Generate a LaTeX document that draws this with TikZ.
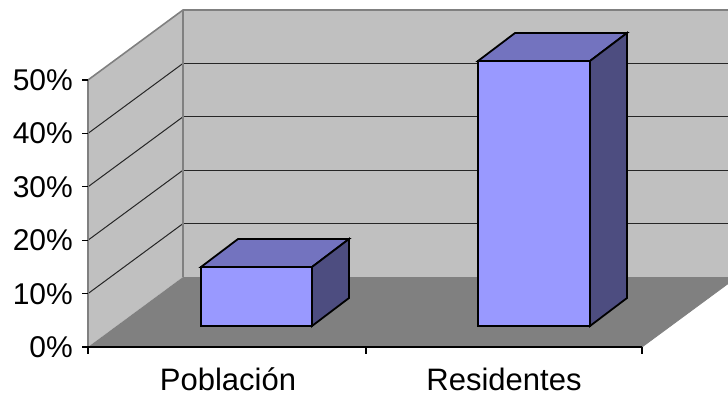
\documentclass[tikz,border=0pt]{standalone}
\usepackage{fontspec}
\setmainfont{Liberation Sans}
\definecolor{wallgray}{HTML}{C0C0C0}
\definecolor{floorgray}{HTML}{808080}
\definecolor{barfront}{HTML}{9999FF}
\definecolor{bartop}{HTML}{7373BF}
\definecolor{barside}{HTML}{4D4D80}
\begin{document}
\begin{tikzpicture}
            [
                x = 1pt, y = -1pt,
                ylab/.style = {anchor=base east, inner sep=0pt, font=\fontsize{30}{36}\selectfont},
                xlab/.style = {anchor=base, inner sep=0pt, font=\fontsize{31}{36}\selectfont},
                grid/.style = {draw=black!85, line width=1pt},
                walledge/.style = {draw=floorgray, line width=1.6pt},
                bar/.style = {draw=black, line width=1.8pt, line join=miter}
            ]
            \useasboundingbox (0,0) rectangle (728,396);
            \begin{scope}
                \clip (0,0) rectangle (728,396);
                % walls and floor
                \fill[wallgray] (183,10) -- (737,10) -- (737,277) -- (183,277) -- cycle;
                \fill[wallgray] (88,80) -- (183,10) -- (183,277) -- (88,347) -- cycle;
                \fill[floorgray] (88,347) -- (642,347) -- (737,277) -- (183,277) -- cycle;
                \draw[grid] (183,63.4) -- (737,63.4);
                \draw[grid] (183,116.8) -- (737,116.8);
                \draw[grid] (183,170.2) -- (737,170.2);
                \draw[grid] (183,223.6) -- (737,223.6);
                \draw[grid] (88,133.4) -- (183,63.4);
                \draw[grid] (88,186.8) -- (183,116.8);
                \draw[grid] (88,240.2) -- (183,170.2);
                \draw[grid] (88,293.6) -- (183,223.6);
                \draw[walledge] (88,80) -- (183,10) -- (737,10);
                \draw[walledge] (183,10) -- (183,277);
                \draw[draw=floorgray, line width=0.8pt] (642,347) -- (737,277);
            \end{scope}
            % axes
            \draw[walledge] (88,80) -- (88,347);
            \draw[line width=1.2pt] (88,347) -- (642,347);
            \draw[line width=1.2pt] (82,80) -- (88,80);
            \draw[line width=1.2pt] (82,133.4) -- (88,133.4);
            \draw[line width=1.2pt] (82,186.8) -- (88,186.8);
            \draw[line width=1.2pt] (82,240.2) -- (88,240.2);
            \draw[line width=1.2pt] (82,293.6) -- (88,293.6);
            \draw[line width=1.2pt] (82,347) -- (88,347);
            \draw[line width=1.2pt] (88,347) -- (88,354);
            \draw[line width=1.2pt] (366,347) -- (366,354);
            \draw[line width=1.2pt] (642,347) -- (642,354);
            \node[ylab] (p50) at (73,90.5) {50\%};
            \node[ylab] (p40) at (73,143.9) {40\%};
            \node[ylab] (p30) at (73,197.3) {30\%};
            \node[ylab] (p20) at (73,250.7) {20\%};
            \node[ylab] (p10) at (73,304.1) {10\%};
            \node[ylab] (p0) at (73,357.5) {0\%};
            \node[xlab] (poblacion) at (228,390) {Población};
            \node[xlab] (residentes) at (504,390) {Residentes};
            % bars
            \filldraw[bar, fill=bartop] (201,267) -- (312,267) -- (349,239) -- (238,239) -- cycle;
            \filldraw[bar, fill=barside] (312,267) -- (349,239) -- (349,298) -- (312,326) -- cycle;
            \filldraw[bar, fill=barfront] (201,267) rectangle (312,326);
            \filldraw[bar, fill=bartop] (478,61) -- (590,61) -- (627,33) -- (515,33) -- cycle;
            \filldraw[bar, fill=barside] (590,61) -- (627,33) -- (627,298) -- (590,326) -- cycle;
            \filldraw[bar, fill=barfront] (478,61) rectangle (590,326);
        \end{tikzpicture}
\end{document}
